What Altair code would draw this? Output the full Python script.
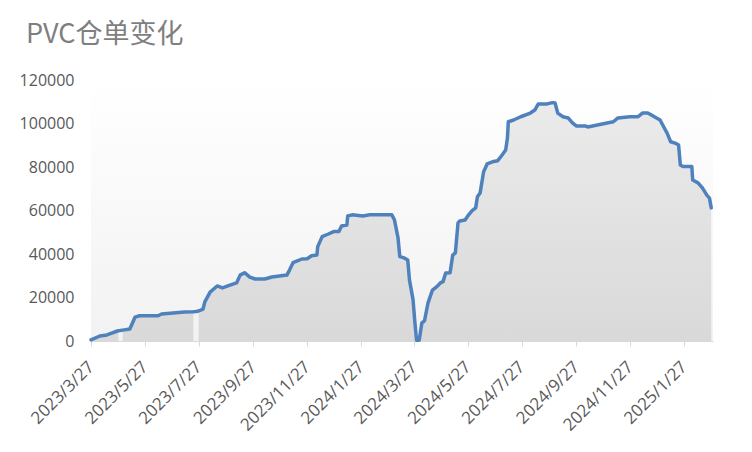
import altair as alt
import pandas as pd

title_text = "PVC仓单变化"

dates = [
    "2023-03-27", "2023-04-06", "2023-04-14", "2023-04-26", "2023-04-27", "2023-04-29",
    "2023-05-02", "2023-05-10", "2023-05-16", "2023-05-21", "2023-06-11", "2023-06-15",
    "2023-07-11", "2023-07-21", "2023-07-24", "2023-07-27", "2023-08-01", "2023-08-03",
    "2023-08-09", "2023-08-17", "2023-08-23", "2023-08-29", "2023-09-08", "2023-09-12",
    "2023-09-17", "2023-09-23", "2023-09-29", "2023-10-10", "2023-10-18", "2023-11-04",
    "2023-11-07", "2023-11-11", "2023-11-21", "2023-11-27", "2023-12-02", "2023-12-08",
    "2023-12-09", "2023-12-14", "2023-12-21", "2023-12-27", "2024-01-02", "2024-01-05",
    "2024-01-11", "2024-01-12", "2024-01-17", "2024-01-29", "2024-02-06", "2024-03-02",
    "2024-03-05", "2024-03-09", "2024-03-11", "2024-03-16", "2024-03-20", "2024-03-22",
    "2024-03-26", "2024-03-28", "2024-03-30", "2024-04-02", "2024-04-05", "2024-04-08",
    "2024-04-12", "2024-04-17", "2024-04-22", "2024-04-26", "2024-04-29", "2024-05-02",
    "2024-05-07", "2024-05-10", "2024-05-13", "2024-05-16", "2024-05-18", "2024-05-24",
    "2024-05-28", "2024-06-01", "2024-06-05", "2024-06-07", "2024-06-10", "2024-06-14",
    "2024-06-18", "2024-06-24", "2024-06-30", "2024-07-05", "2024-07-09", "2024-07-11",
    "2024-07-12", "2024-07-18", "2024-07-26", "2024-08-06", "2024-08-11", "2024-08-15",
    "2024-08-25", "2024-08-31", "2024-09-03", "2024-09-06", "2024-09-12", "2024-09-18",
    "2024-09-23", "2024-09-27", "2024-10-07", "2024-10-10", "2024-10-21", "2024-11-01",
    "2024-11-08", "2024-11-13", "2024-11-27", "2024-12-06", "2024-12-11", "2024-12-17",
    "2024-12-23", "2024-12-31", "2025-01-03", "2025-01-08", "2025-01-12", "2025-01-17",
    "2025-01-21", "2025-01-23", "2025-01-26", "2025-02-05", "2025-02-06", "2025-02-12",
    "2025-02-17", "2025-02-22", "2025-02-25", "2025-02-27",
]

values = [
    500, 2300, 2800, 4600, 4700, 4800,
    5000, 5500, 11000, 11600, 11600, 12400,
    13300, 13500, 13600, 13800, 14700, 18000,
    22500, 25300, 24400, 25300, 26700, 30300,
    31400, 29400, 28500, 28500, 29400, 30300,
    32600, 36000, 37700, 37800, 39200, 39500,
    43400, 48000, 49200, 50300, 50300, 52900,
    53300, 57500, 58000, 57500, 58000, 58000,
    55600, 47400, 38800, 38200, 37200, 28000,
    19000, 9000, 300, 300, 8300, 9300,
    17500, 23400, 25000, 26700, 27300, 31300,
    31400, 39500, 40500, 54300, 55200, 55600,
    58000, 59900, 61200, 66300, 68000, 77800,
    81400, 82400, 82900, 85500, 87800, 93300,
    100800, 101600, 103100, 104800, 106200, 109000,
    109000, 109600, 109400, 104800, 103100, 102500,
    100200, 98900, 98900, 98400, 99300, 100200,
    100800, 102500, 103100, 103100, 104800, 104800,
    103500, 101600, 99300, 95600, 91600, 91000,
    90100, 80900, 80200, 80200, 74000, 72700,
    70400, 67100, 65700, 61200,
]

# dates where the filled area is interrupted (missing in the source series)
gap_dates = ["2023-04-29", "2023-07-24"]

y_ticks = [0, 20000, 40000, 60000, 80000, 100000, 120000]
x_ticks = [
    (2023, 3, 27), (2023, 5, 27), (2023, 7, 27), (2023, 9, 27), (2023, 11, 27),
    (2024, 1, 27), (2024, 3, 27), (2024, 5, 27), (2024, 7, 27), (2024, 9, 27),
    (2024, 11, 27), (2025, 1, 27),
]
x_domain = [(2023, 3, 27), (2025, 3, 1)]

df = pd.DataFrame({"date": dates, "value": values})
df["area_value"] = [None if d in gap_dates else v for d, v in zip(dates, values)]

W, H = 622, 261


def dt(t):
    return alt.DateTime(year=t[0], month=t[1], date=t[2], utc=True)


x_scale = alt.Scale(type="utc", domain=[dt(x_domain[0]), dt(x_domain[1])])
y_scale = alt.Scale(domain=[0, 120000], nice=False)

x_axis = alt.Axis(
    values=[dt(t) for t in x_ticks],
    labelExpr="utcFormat(datum.value, '%Y/%-m/%-d')",
    labelAngle=-45,
    labelAlign="right",
    labelBaseline="middle",
    labelPadding=18,
    labelOverlap=False,
    labelFlush=False,
    labelFontSize=17,
    domainColor="#d9d9d9",
    domainWidth=1,
    tickColor="#d9d9d9",
    tickSize=5,
    grid=False,
    title=None,
)
y_axis = alt.Axis(
    values=y_ticks,
    format="d",
    domain=False,
    ticks=False,
    grid=False,
    labelPadding=17,
    title=None,
)

bg = alt.Chart(alt.Data(values=[{}])).mark_rect(
    fill=alt.LinearGradient(
        gradient="linear",
        x1=0, x2=0, y1=0, y2=1,
        stops=[
            alt.GradientStop(offset=0, color="#ffffff"),
            alt.GradientStop(offset=1, color="#f2f2f2"),
        ],
    ),
    strokeWidth=0,
).encode(
    x=alt.value(0), x2=alt.value(W), y=alt.value(0), y2=alt.value(H)
)

base = alt.Chart(df)

area = base.mark_area(
    fill=alt.LinearGradient(
        gradient="linear",
        x1=0, x2=0, y1=0, y2=1,
        stops=[
            alt.GradientStop(offset=0, color="#ebebeb"),
            alt.GradientStop(offset=1, color="#d9d9d9"),
        ],
    ),
).encode(
    x=alt.X("date:T", scale=x_scale, axis=x_axis),
    y=alt.Y("area_value:Q", scale=y_scale, axis=y_axis),
)

line = base.mark_line(
    color="#4f81bd", strokeWidth=3.5, strokeJoin="round", strokeCap="round"
).encode(
    x=alt.X("date:T", scale=x_scale),
    y=alt.Y("value:Q", scale=y_scale),
)

chart = alt.layer(bg, area, line).properties(
    width=W,
    height=H,
    autosize=alt.AutoSizeParams(type="none"),
    padding={"left": 83, "top": 72, "right": 31, "bottom": 103},
    title=alt.TitleParams(
        text=title_text,
        anchor="start",
        frame="group",
        dx=-65,
        offset=23,
        font="Noto Sans CJK SC",
        fontSize=27,
        fontWeight="normal",
        color="#7f7f7f",
    ),
).configure_axis(
    labelFont="Open Sans",
    labelFontSize=16,
    labelColor="#595959",
).configure_view(stroke=None)

chart.save("out.html", embed_options={"renderer": "svg", "actions": False})
